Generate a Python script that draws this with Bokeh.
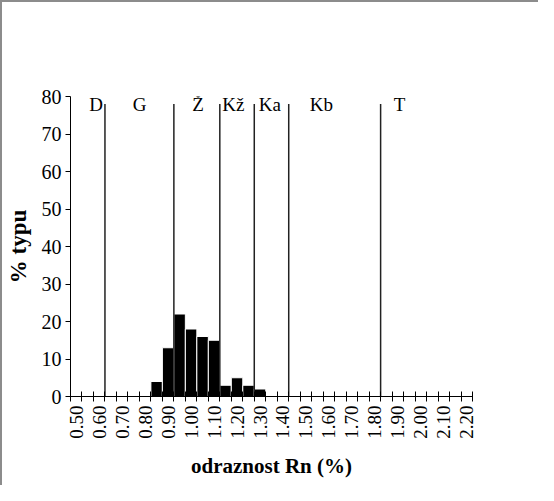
import math
from bokeh.plotting import figure
from bokeh.models import Range1d, FixedTicker, ColumnDataSource, LabelSet
from bokeh.embed import file_html
from bokeh.resources import INLINE

# category centers of reflectance classes
bin_centers = [0.85, 0.90, 0.95, 1.00, 1.05, 1.10, 1.15, 1.20, 1.25, 1.30]
pct_type = [4, 13, 22, 18, 16, 15, 3, 5, 3, 2]

label_ticks = [0.50, 0.60, 0.70, 0.80, 0.90, 1.00, 1.10, 1.20, 1.30, 1.40, 1.50,
               1.60, 1.70, 1.80, 1.90, 2.00, 2.10, 2.20]
boundaries = [round(0.475 + 0.05 * i, 3) for i in range(36)]

# class boundaries (vertical lines) and class names
class_bounds = [0.625, 0.925, 1.125, 1.275, 1.425, 1.825]
class_top = 78
class_names = ["D", "G", "Ž", "Kž", "Ka", "Kb", "T"]
class_label_x = [0.587, 0.776, 1.03, 1.184, 1.343, 1.567, 1.907]
class_label_y = [77.8, 77.8, 77.8, 77.8, 77.8, 77.8, 77.8]

p = figure(width=538, height=485, output_backend="svg", toolbar_location=None,
           x_range=Range1d(0.475, 2.225), y_range=Range1d(0, 80),
           min_border_left=63, min_border_right=68, min_border_top=94,
           min_border_bottom=91)
p.styles = {"border-left": "2px solid #8c8c8c", "border-top": "2px solid #8c8c8c"}
p.outline_line_color = None
p.xgrid.grid_line_color = None
p.ygrid.grid_line_color = None

p.vbar(x=bin_centers, top=pct_type, width=0.05, fill_color="black",
       line_color="white", line_width=1)

p.segment(x0=class_bounds, y0=[0] * len(class_bounds), x1=class_bounds,
          y1=[class_top] * len(class_bounds), line_color="#222222", line_width=1.5)

serif = "Liberation Serif"
src = ColumnDataSource(dict(x=class_label_x, y=class_label_y, t=class_names))
p.add_layout(LabelSet(x="x", y="y", text="t", source=src, text_font=serif,
                      text_font_size="19px", text_align="center",
                      text_baseline="middle", text_color="black"))

xa = p.xaxis[0]
xa.ticker = FixedTicker(ticks=label_ticks, minor_ticks=boundaries)
xa.major_label_overrides = {t: f"{t:.2f}" for t in label_ticks}
xa.major_label_orientation = math.pi / 2
xa.major_tick_line_color = None
xa.major_tick_in = 0
xa.major_tick_out = 5
xa.minor_tick_in = 5
xa.minor_tick_out = 5
xa.minor_tick_line_color = "black"
xa.axis_line_color = "black"
xa.major_label_text_font = serif
xa.major_label_text_font_size = "19px"
xa.major_label_text_color = "black"
xa.major_label_standoff = 4
xa.axis_label = "odraznost Rn (%)"
xa.axis_label_text_font = serif
xa.axis_label_text_font_style = "bold"
xa.axis_label_text_font_size = "21px"
xa.axis_label_text_color = "black"
xa.axis_label_standoff = 12

ya = p.yaxis[0]
ya.ticker = FixedTicker(ticks=[0, 10, 20, 30, 40, 50, 60, 70, 80], minor_ticks=[])
ya.major_tick_in = 0
ya.major_tick_out = 5
ya.major_tick_line_color = "black"
ya.axis_line_color = "black"
ya.major_label_text_font = serif
ya.major_label_text_font_size = "20px"
ya.major_label_text_color = "black"
ya.major_label_standoff = 4
ya.axis_label = "% typu"
ya.axis_label_text_font = serif
ya.axis_label_text_font_style = "bold"
ya.axis_label_text_font_size = "23px"
ya.axis_label_text_color = "black"
ya.axis_label_standoff = 8

open("out.html", "w").write(file_html(p, INLINE))
